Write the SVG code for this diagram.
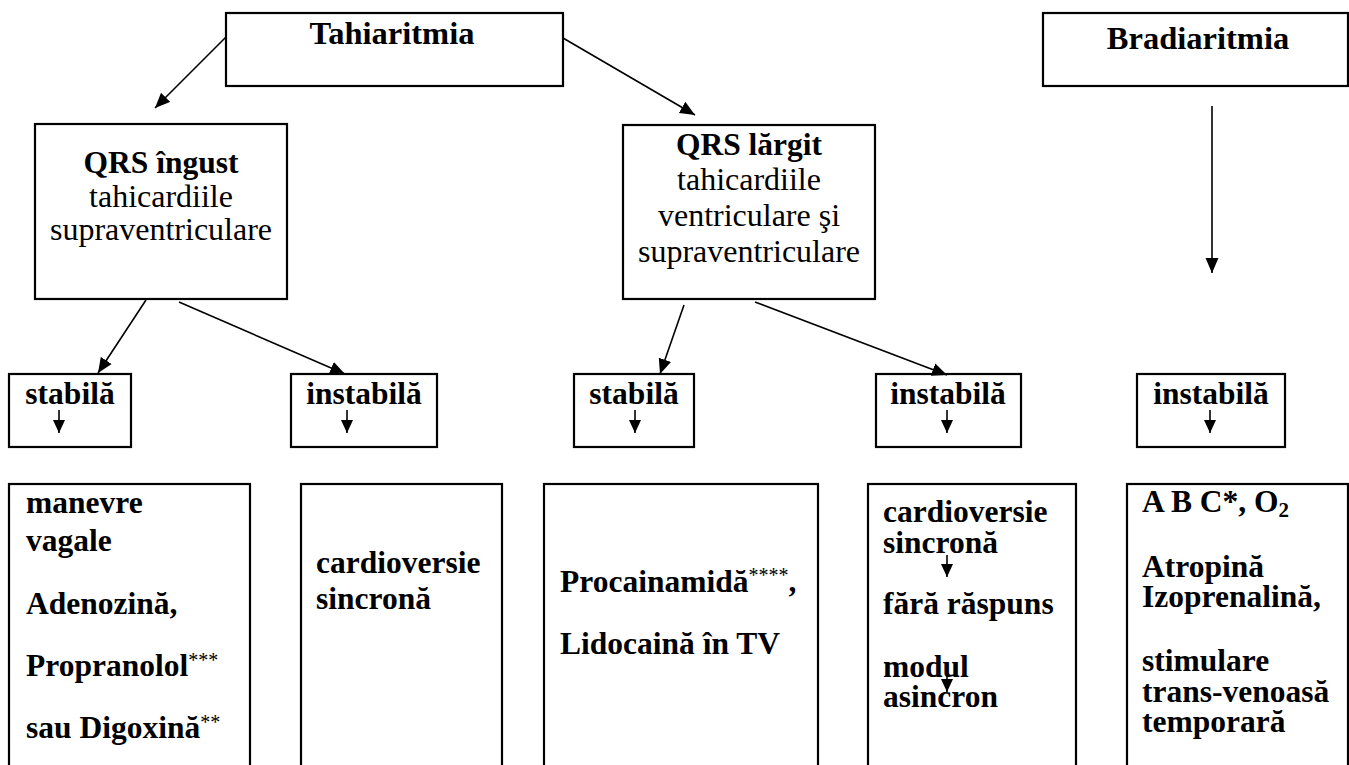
<svg xmlns="http://www.w3.org/2000/svg" width="1349" height="765" viewBox="0 0 1349 765">
  <defs>
    <style>
      .box { fill: #fff; stroke: #000; stroke-width: 2.2; }
      .b { font-family: "Liberation Serif", "Times New Roman", serif; font-weight: bold; font-size: 31.5px; fill: #000; }
      .r { font-family: "Liberation Serif", "Times New Roman", serif; font-weight: normal; font-size: 32px; fill: #000; }
      .head { font-size: 32.5px; }
      .mid { text-anchor: middle; }
      .sup { font-weight: normal; font-size: 20px; }
      .sub { font-size: 21px; }
      .edge { fill: none; stroke: #000; stroke-width: 1.6; marker-end: url(#head); }
      .tick { fill: none; stroke: #000; stroke-width: 1.6; marker-end: url(#headSmall); }
    </style>
    <marker id="head" markerUnits="userSpaceOnUse" viewBox="0 0 16 14" markerWidth="16" markerHeight="14" refX="15" refY="7" orient="auto">
      <path d="M0,0.5 L15,7 L0,13.5 Z" fill="#000"/>
    </marker>
    <marker id="headSmall" markerUnits="userSpaceOnUse" viewBox="0 0 14 12" markerWidth="14" markerHeight="12" refX="13" refY="6" orient="auto">
      <path d="M0,0 L13,6 L0,12 Z" fill="#000"/>
    </marker>
  </defs>

  <rect width="1349" height="765" fill="#fff"/>

  <!-- top level -->
  <g id="n-tahiaritmia">
    <rect class="box" x="226" y="13" width="337" height="73"/>
    <text class="b head mid" x="392" y="44">Tahiaritmia</text>
  </g>
  <g id="n-bradiaritmia">
    <rect class="box" x="1043" y="13" width="305" height="73"/>
    <text class="b head mid" x="1198" y="49">Bradiaritmia</text>
  </g>

  <!-- QRS groups -->
  <g id="n-qrs-ingust">
    <rect class="box" x="35" y="124" width="252" height="175"/>
    <text class="b mid" x="161" y="173">QRS îngust</text>
    <text class="r mid" x="161" y="207">tahicardiile</text>
    <text class="r mid" x="161" y="240">supraventriculare</text>
  </g>
  <g id="n-qrs-largit">
    <rect class="box" x="623" y="125" width="252" height="174"/>
    <text class="b mid" x="749" y="155">QRS lărgit</text>
    <text class="r mid" x="749" y="190">tahicardiile</text>
    <text class="r mid" x="749" y="226">ventriculare şi</text>
    <text class="r mid" x="749" y="262">supraventriculare</text>
  </g>

  <!-- stability boxes -->
  <g id="n-stabila-1">
    <rect class="box" x="9" y="374" width="122" height="73"/>
    <text class="b mid" x="70" y="404">stabilă</text>
  </g>
  <g id="n-instabila-1">
    <rect class="box" x="291" y="374" width="146" height="73"/>
    <text class="b mid" x="364" y="404">instabilă</text>
  </g>
  <g id="n-stabila-2">
    <rect class="box" x="574" y="374" width="120" height="73"/>
    <text class="b mid" x="634" y="404">stabilă</text>
  </g>
  <g id="n-instabila-2">
    <rect class="box" x="876" y="374" width="145" height="73"/>
    <text class="b mid" x="948" y="404">instabilă</text>
  </g>
  <g id="n-instabila-3">
    <rect class="box" x="1137" y="374" width="148" height="73"/>
    <text class="b mid" x="1211" y="404">instabilă</text>
  </g>

  <!-- treatment columns (open at the bottom of the page) -->
  <g id="n-trat-1">
    <rect class="box" x="9" y="484" width="241" height="300"/>
    <text class="b" x="26" y="513">manevre</text>
    <text class="b" x="26" y="551">vagale</text>
    <text class="b" x="26" y="614">Adenozină,</text>
    <text class="b" x="26" y="676">Propranolol<tspan class="sup" dy="-9">***</tspan></text>
    <text class="b" x="26" y="738">sau Digoxină<tspan class="sup" dy="-9">**</tspan></text>
  </g>
  <g id="n-trat-2">
    <rect class="box" x="301" y="484" width="201" height="300"/>
    <text class="b" x="316" y="573">cardioversie</text>
    <text class="b" x="316" y="609">sincronă</text>
  </g>
  <g id="n-trat-3">
    <rect class="box" x="544" y="484" width="274" height="300"/>
    <text class="b" x="560" y="592">Procainamidă<tspan class="sup" dy="-10">****</tspan><tspan dy="10">,</tspan></text>
    <text class="b" x="560" y="654">Lidocaină în TV</text>
  </g>
  <g id="n-trat-4">
    <rect class="box" x="868" y="484" width="208" height="300"/>
    <text class="b" x="883" y="522">cardioversie</text>
    <text class="b" x="883" y="553">sincronă</text>
    <text class="b" x="883" y="614">fără răspuns</text>
    <text class="b" x="883" y="677">modul</text>
    <text class="b" x="883" y="707">asincron</text>
  </g>
  <g id="n-trat-5">
    <rect class="box" x="1127" y="484" width="221" height="300"/>
    <text class="b" x="1142" y="512">A B C*, O<tspan class="sub" dy="5">2</tspan></text>
    <text class="b" x="1142" y="577">Atropină</text>
    <text class="b" x="1142" y="607">Izoprenalină,</text>
    <text class="b" x="1142" y="671">stimulare</text>
    <text class="b" x="1142" y="702">trans-venoasă</text>
    <text class="b" x="1142" y="732">temporară</text>
  </g>

  <!-- connectors -->
  <g id="connectors">
    <line class="edge" x1="226" y1="37" x2="155" y2="108"/>
    <line class="edge" x1="563" y1="38" x2="695" y2="115"/>
    <line class="edge" x1="1212" y1="106" x2="1212" y2="273"/>
    <line class="edge" x1="146" y1="300" x2="98" y2="373"/>
    <line class="edge" x1="179" y1="302" x2="345" y2="374"/>
    <line class="edge" x1="684" y1="305" x2="660" y2="374"/>
    <line class="edge" x1="755" y1="302" x2="947" y2="375"/>

    <line class="tick" x1="59" y1="410" x2="59" y2="433"/>
    <line class="tick" x1="347" y1="410" x2="347" y2="433"/>
    <line class="tick" x1="635" y1="410" x2="635" y2="433"/>
    <line class="tick" x1="947" y1="410" x2="947" y2="433"/>
    <line class="tick" x1="1210" y1="410" x2="1210" y2="433"/>

    <line class="tick" x1="947" y1="555" x2="947" y2="577"/>
    <line class="tick" x1="947" y1="670" x2="947" y2="692"/>
  </g>
</svg>
